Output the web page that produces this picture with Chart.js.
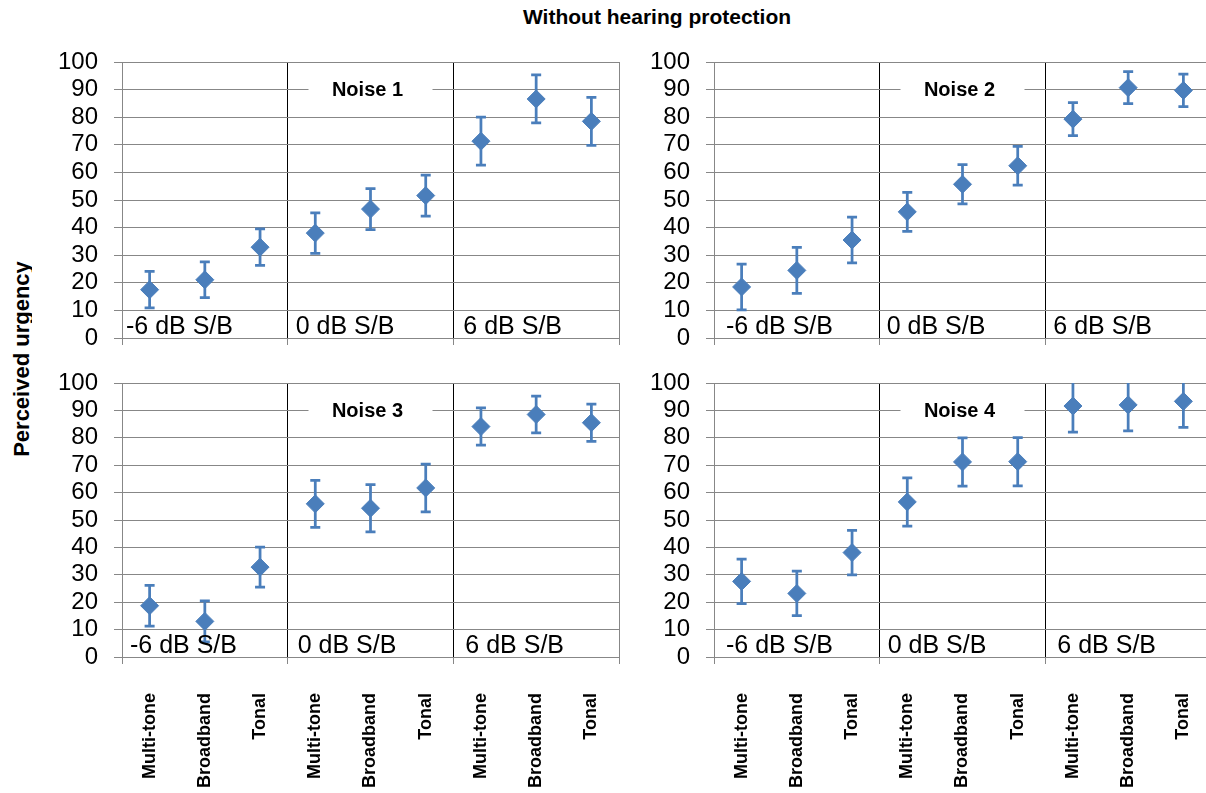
<!DOCTYPE html>
<html>
<head>
<meta charset="utf-8">
<script src="https://cdn.jsdelivr.net/npm/chart.js@4"></script>
<style>
  html, body { margin: 0; padding: 0; width: 1206px; height: 793px; overflow: hidden; background: #fff; }
  canvas { position: absolute; }
  #title {
    position: absolute; left: 457px; top: 6px; width: 400px; text-align: center;
    font: bold 21px 'Liberation Sans', Arial, sans-serif; line-height: 21px; color: #000;
  }
  #yclip { position: absolute; left: 0; top: 0; width: 32px; height: 793px; overflow: hidden; }
  #ytitle {
    position: absolute; left: -128px; top: 348px; width: 300px; height: 22px; text-align: center;
    font: bold 22px 'Liberation Sans', Arial, sans-serif; line-height: 22px; color: #000;
    transform: rotate(-90deg); white-space: nowrap;
  }
</style>
</head>
<body>
<div id="title">Without hearing protection</div>
<div id="yclip"><div id="ytitle">Perceived urgency</div></div>
<canvas id="c1" width="630" height="356"></canvas>
<canvas id="c2" width="630" height="356"></canvas>
<canvas id="c3" width="630" height="443"></canvas>
<canvas id="c4" width="630" height="443"></canvas>
<script>
// Signal types, repeated for each signal-to-background condition
const categories = ['Multi-tone', 'Broadband', 'Tonal', 'Multi-tone', 'Broadband', 'Tonal', 'Multi-tone', 'Broadband', 'Tonal'];
const conditions = ['-6 dB S/B', '0 dB S/B', '6 dB S/B'];
const noiseNames = ['Noise 1', 'Noise 2', 'Noise 3', 'Noise 4'];

// Y axis range and step
const yMin = 0;
const yMax = 100;
const yStep = 10;

// Mean perceived urgency and error-bar half widths per noise
const noise1Mean = [17.5, 21.1, 32.9, 38.0, 46.7, 51.6, 71.3, 86.6, 78.5];
const noise1Err  = [6.6, 6.5, 6.6, 7.3, 7.4, 7.4, 8.7, 8.7, 8.7];
const noise2Mean = [18.5, 24.5, 35.5, 45.7, 55.7, 62.4, 79.3, 90.7, 89.7];
const noise2Err  = [8.3, 8.3, 8.3, 7.1, 7.1, 7.0, 6.0, 5.8, 5.9];
const noise3Mean = [18.7, 13.0, 32.8, 55.9, 54.3, 61.7, 84.1, 88.5, 85.5];
const noise3Err  = [7.4, 7.5, 7.3, 8.6, 8.6, 8.7, 6.8, 6.7, 6.8];
const noise4Mean = [27.6, 23.2, 38.1, 56.6, 71.2, 71.3, 91.6, 92.0, 93.3];
const noise4Err  = [8.1, 8.1, 8.1, 8.8, 8.8, 8.8, 9.5, 9.5, 9.5];

const BLUE = '#4a7ebb';
const GRID = '#878787';
const FONT = "'Liberation Sans', Arial, sans-serif";

Chart.defaults.font.family = FONT;
Chart.defaults.color = '#000';

// Canvas placement and plot margins for the 2x2 grid
const panels = [
  { id: 'c1', name: noiseNames[0], mean: noise1Mean, err: noise1Err, left: 0,   top: 0,   padTop: 62, axisH: 18,  showX: false, condDx: [4, 8, 10] },
  { id: 'c2', name: noiseNames[1], mean: noise2Mean, err: noise2Err, left: 592, top: 0,   padTop: 62, axisH: 18,  showX: false, condDx: [12, 7, 8] },
  { id: 'c3', name: noiseNames[2], mean: noise3Mean, err: noise3Err, left: 0,   top: 350, padTop: 33, axisH: 136, showX: true,  condDx: [8, 10, 12] },
  { id: 'c4', name: noiseNames[3], mean: noise4Mean, err: noise4Err, left: 592, top: 350, padTop: 33, axisH: 136, showX: true,  condDx: [12, 8, 12] }
];

function isBoundary(ctx) {
  return ctx.index === undefined || ctx.index % 3 === 0;
}

function noEdgePadding(s) {
  s.paddingTop = 0; s.paddingBottom = 0; s.paddingLeft = 0; s.paddingRight = 0;
}

function decorations(p) {
  return {
    id: 'decorations',
    beforeDatasetsDraw(chart) {
      const { ctx, chartArea: a, scales: { y } } = chart;
      const pts = chart.getDatasetMeta(0).data;
      ctx.save();
      ctx.beginPath();
      ctx.rect(a.left, a.top, a.right - a.left, a.bottom - a.top);
      ctx.clip();
      ctx.strokeStyle = BLUE;
      ctx.lineWidth = 2.75;
      p.mean.forEach((m, i) => {
        const x = pts[i].x;
        const hi = y.getPixelForValue(m + p.err[i]);
        const lo = y.getPixelForValue(m - p.err[i]);
        ctx.beginPath();
        ctx.moveTo(x, hi); ctx.lineTo(x, lo);
        ctx.moveTo(x - 5, hi); ctx.lineTo(x + 5, hi);
        ctx.moveTo(x - 5, lo); ctx.lineTo(x + 5, lo);
        ctx.stroke();
      });
      ctx.restore();
    },
    afterDraw(chart) {
      const { ctx, chartArea: a, scales: { x } } = chart;
      const edge = g => g === 0 ? a.left : g === 3 ? a.right
        : (x.getPixelForValue(3 * g - 1) + x.getPixelForValue(3 * g)) / 2;
      ctx.save();
      // panel name on a white box over the 90 gridline
      const cx = (edge(1) + edge(2)) / 2;
      const cy = a.top + 0.1 * (a.bottom - a.top);
      ctx.fillStyle = '#fff';
      ctx.fillRect(cx - 62, cy - 13, 124, 26);
      ctx.fillStyle = '#000';
      ctx.font = 'bold 20px ' + FONT;
      ctx.textAlign = 'center';
      ctx.textBaseline = 'middle';
      ctx.fillText(p.name, cx - 3, cy + 1);
      // condition labels along the bottom of each group
      ctx.font = '25px ' + FONT;
      ctx.textAlign = 'left';
      ctx.textBaseline = 'alphabetic';
      conditions.forEach((c, g) => ctx.fillText(c, edge(g) + p.condDx[g], a.bottom - 4));
      ctx.restore();
    }
  };
}

panels.forEach(p => {
  const el = document.getElementById(p.id);
  el.style.left = p.left + 'px';
  el.style.top = p.top + 'px';
  new Chart(el, {
    type: 'line',
    data: {
      labels: categories,
      datasets: [{
        data: p.mean,
        showLine: false,
        pointStyle: 'rectRot',
        pointRadius: 9,
        pointHoverRadius: 9,
        pointBackgroundColor: BLUE,
        pointBorderColor: BLUE,
        pointBorderWidth: 1
      }]
    },
    options: {
      responsive: false,
      animation: false,
      devicePixelRatio: 1,
      events: [],
      layout: { autoPadding: false, padding: { top: p.padTop, right: 11, left: 0, bottom: 0 } },
      plugins: { legend: { display: false }, tooltip: { enabled: false }, title: { display: false } },
      scales: {
        x: {
          type: 'category',
          offset: true,
          afterFit: s => { s.height = p.axisH; noEdgePadding(s); },
          grid: {
            offset: true,
            drawTicks: true,
            tickLength: 7,
            color: ctx => isBoundary(ctx) ? (ctx.index === 3 || ctx.index === 6 ? '#000' : GRID) : 'rgba(0,0,0,0)',
            tickColor: ctx => isBoundary(ctx) ? GRID : 'rgba(0,0,0,0)',
            lineWidth: 1
          },
          border: { display: true, color: GRID },
          ticks: {
            display: p.showX,
            autoSkip: false,
            minRotation: 90,
            maxRotation: 90,
            padding: 29,
            font: { size: 18, weight: 'bold' },
            color: '#000'
          }
        },
        y: {
          min: yMin,
          max: yMax,
          afterFit: s => { s.width = 122; noEdgePadding(s); },
          grid: { color: GRID, tickColor: GRID, tickLength: 8, lineWidth: 1 },
          border: { display: true, color: GRID },
          ticks: { stepSize: yStep, autoSkip: false, padding: 16, font: { size: 24 }, color: '#000' }
        }
      }
    },
    plugins: [decorations(p)]
  });
});
</script>
</body>
</html>
